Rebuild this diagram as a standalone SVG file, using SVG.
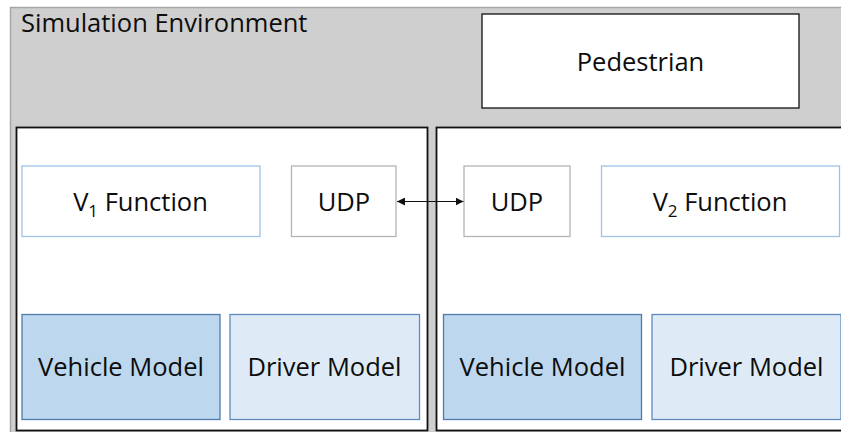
<svg xmlns="http://www.w3.org/2000/svg" width="841" height="432" viewBox="0 0 841 432">
  <style>
    text { font-family: "Open Sans", "Liberation Sans", sans-serif; font-size: 25.5px; fill: #0d0d0d; }
    .mid { text-anchor: middle; }
    .env { fill: #cfcfcf; stroke: #a6a6a6; stroke-width: 1.5; }
    .vehicle { fill: #ffffff; stroke: #111; stroke-width: 1.8; }
    .plain { fill: #ffffff; stroke: #111; stroke-width: 1.3; }
    .func { fill: #ffffff; stroke: #9dc3e6; stroke-width: 1.3; }
    .udp { fill: #ffffff; stroke: #b4b4b4; stroke-width: 1.3; }
    .vmodel { fill: #bdd7ee; stroke: #4f7cac; stroke-width: 1.3; }
    .dmodel { fill: #deebf7; stroke: #5f8abd; stroke-width: 1.3; }
    .link { stroke: #111; stroke-width: 1; fill: none; }
    .sub { font-size: 17px; }
  </style>
  <defs>
    <marker id="head" viewBox="0 0 8 8" refX="8" refY="4" markerWidth="8" markerHeight="8" markerUnits="userSpaceOnUse" orient="auto-start-reverse">
      <path d="M0,0 L8,4 L0,8 Z" fill="#111"/>
    </marker>
  </defs>

  <g id="environment">
    <rect class="env" x="10.5" y="7.5" width="840" height="430"/>
    <text x="21" y="32">Simulation Environment</text>
  </g>

  <g id="pedestrian">
    <rect class="plain" x="482" y="14" width="317" height="94"/>
    <text class="mid" x="640.5" y="71">Pedestrian</text>
  </g>

  <g id="vehicle1">
    <rect class="vehicle" x="16.5" y="127.5" width="411" height="303"/>
  </g>
  <g id="vehicle2">
    <rect class="vehicle" x="436.5" y="127.5" width="420" height="303"/>
  </g>

  <g id="v1-function">
    <rect class="func" x="22" y="166" width="238" height="70.5"/>
    <text class="mid" x="140.5" y="211">V<tspan class="sub" dy="6">1</tspan><tspan dy="-6"> Function</tspan></text>
  </g>
  <g id="udp1">
    <rect class="udp" x="291.5" y="166" width="104.5" height="70.5"/>
    <text class="mid" x="344" y="211">UDP</text>
  </g>
  <g id="udp2">
    <rect class="udp" x="464" y="166" width="106" height="70.5"/>
    <text class="mid" x="517" y="211">UDP</text>
  </g>
  <g id="v2-function">
    <rect class="func" x="601.5" y="166" width="238" height="70.5"/>
    <text class="mid" x="720" y="211">V<tspan class="sub" dy="6">2</tspan><tspan dy="-6"> Function</tspan></text>
  </g>

  <g id="vehicle-model1">
    <rect class="vmodel" x="22" y="314.5" width="198" height="105"/>
    <text class="mid" x="121" y="376">Vehicle Model</text>
  </g>
  <g id="driver-model1">
    <rect class="dmodel" x="230" y="314.5" width="189.5" height="105"/>
    <text class="mid" x="324.5" y="376">Driver Model</text>
  </g>
  <g id="vehicle-model2">
    <rect class="vmodel" x="443.5" y="314.5" width="198" height="105"/>
    <text class="mid" x="542.5" y="376">Vehicle Model</text>
  </g>
  <g id="driver-model2">
    <rect class="dmodel" x="652" y="314.5" width="189" height="105"/>
    <text class="mid" x="746.5" y="376">Driver Model</text>
  </g>

  <g id="connectors">
    <line class="link" x1="397" y1="201.5" x2="463.5" y2="201.5" marker-start="url(#head)" marker-end="url(#head)"/>
  </g>
</svg>
